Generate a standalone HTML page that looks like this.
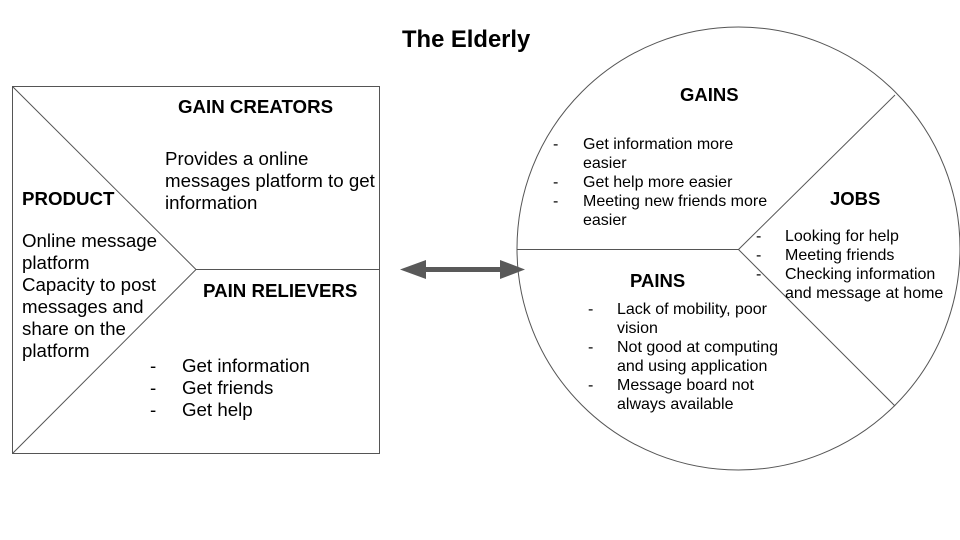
<!DOCTYPE html>
<html><head><meta charset="utf-8"><style>
body{margin:0;width:960px;height:540px;background:#fff;overflow:hidden;position:relative;font-family:"Liberation Sans",Arial,sans-serif;color:#000}
.t{position:absolute;white-space:nowrap}
.b{font-weight:bold}
</style></head><body>
<svg width="960" height="540" style="position:absolute;left:0;top:0">
<g stroke="#555" stroke-width="1" fill="none">
<rect x="12.5" y="86.5" width="367" height="367"/>
<polyline points="12.5,86.5 196,269.5 12.5,453.5"/>
<line x1="196" y1="269.5" x2="379.5" y2="269.5"/>
<circle cx="738.5" cy="248.5" r="221.5"/>
<line x1="517" y1="249.5" x2="738.5" y2="249.5"/>
<line x1="738.5" y1="249.5" x2="895" y2="95"/>
<line x1="738.5" y1="249.5" x2="895" y2="406"/>
</g>
<g fill="#595959">
<rect x="420" y="267" width="86" height="5"/>
<polygon points="400,269.5 426,260 426,279"/>
<polygon points="525,269.5 500,260 500,279"/>
</g>
</svg>
<div class="t b" style="left:402px;top:26px;font-size:23.8px">The Elderly</div>
<div class="t b" style="left:178px;top:96px;font-size:18.7px">GAIN CREATORS</div>
<div class="t" style="left:165px;top:148px;font-size:18.7px;line-height:22px">Provides a online<br>messages platform to get<br>information</div>
<div class="t b" style="left:22px;top:188px;font-size:18.7px">PRODUCT</div>
<div class="t" style="left:22px;top:230px;font-size:18.7px;line-height:22px">Online message<br>platform<br>Capacity to post<br>messages and<br>share on the<br>platform</div>
<div class="t b" style="left:203px;top:280px;font-size:18.7px">PAIN RELIEVERS</div>
<div class="t" style="left:150px;top:355px;font-size:18.7px;line-height:22px">-<br>-<br>-</div>
<div class="t" style="left:182px;top:355px;font-size:18.7px;line-height:22px">Get information<br>Get friends<br>Get help</div>
<div class="t b" style="left:680px;top:84px;font-size:18.5px">GAINS</div>
<div class="t" style="left:553px;top:135px;font-size:16px;line-height:19px">-<br><br>-<br>-</div>
<div class="t" style="left:583px;top:135px;font-size:16px;line-height:19px">Get information more<br>easier<br>Get help more easier<br>Meeting new friends more<br>easier</div>
<div class="t b" style="left:830px;top:188px;font-size:18.5px">JOBS</div>
<div class="t" style="left:756px;top:227px;font-size:16px;line-height:19px">-<br>-<br>-</div>
<div class="t" style="left:785px;top:227px;font-size:16px;line-height:19px">Looking for help<br>Meeting friends<br>Checking information<br>and message at home</div>
<div class="t b" style="left:630px;top:270px;font-size:18.5px">PAINS</div>
<div class="t" style="left:588px;top:300px;font-size:16px;line-height:19px">-<br><br>-<br><br>-</div>
<div class="t" style="left:617px;top:300px;font-size:16px;line-height:19px">Lack of mobility, poor<br>vision<br>Not good at computing<br>and using application<br>Message board not<br>always available</div>
</body></html>
